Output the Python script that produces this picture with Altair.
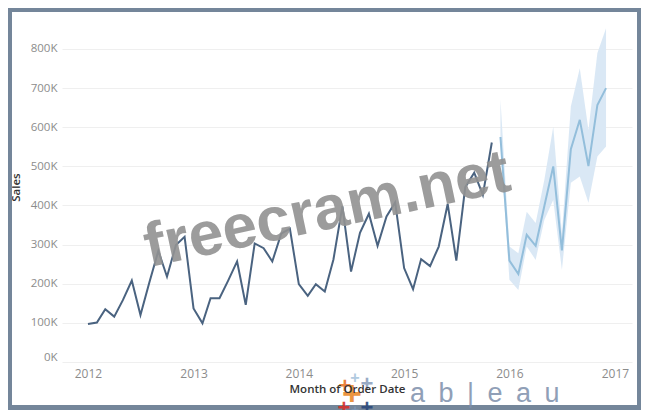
import altair as alt
import pandas as pd

# ---- data (sales in thousands) ----
actual_start = (2012, 1)
actual_sales_k = [
    97, 101, 135, 116, 158, 208, 120, 204, 284, 218, 299, 320,   # 2012
    137, 99, 163, 163, 208, 257, 146, 303, 291, 257, 328, 341,   # 2013
    199, 169, 199, 180, 262, 398, 231, 330, 379, 297, 372, 408,  # 2014
    240, 186, 263, 245, 295, 404, 259, 447, 484, 427, 561,       # 2015 (Jan-Nov)
]
forecast_start = (2015, 12)
forecast_sales_k = [575, 259, 225, 325, 297, 398, 500, 285, 544, 619, 501, 657, 700]
forecast_low_k = [560, 210, 184, 295, 261, 363, 414, 235, 458, 474, 407, 525, 551]
forecast_high_k = [670, 295, 278, 384, 355, 465, 601, 330, 653, 751, 593, 790, 853]

y_ticks_k = [0, 100, 200, 300, 400, 500, 600, 700, 800]
year_ticks = [2012, 2013, 2014, 2015, 2016, 2017]


def months(start, n):
    y, m = start
    out = []
    for _ in range(n):
        out.append(f"{y}-{m:02d}-01")
        m += 1
        if m > 12:
            m = 1
            y += 1
    return out


actual_df = pd.DataFrame({"date": months(actual_start, len(actual_sales_k)),
                          "sales": actual_sales_k})
fc_df = pd.DataFrame({"date": months(forecast_start, len(forecast_sales_k)),
                      "sales": forecast_sales_k,
                      "low": forecast_low_k,
                      "high": forecast_high_k})

LABEL_FONT = "Open Sans"

x_enc = alt.X(
    "date:T",
    scale=alt.Scale(type="utc",
                    domain=[alt.DateTime(year=2011, month=10, date=3, utc=True),
                            alt.DateTime(year=2017, month=3, date=1, utc=True)]),
    axis=alt.Axis(
        values=[alt.DateTime(year=y, month=1, date=1, utc=True) for y in year_ticks],
        labelExpr="utcFormat(datum.value, '%Y')",
        grid=False, ticks=False, domain=False,
        labelColor="#8c8c8c", labelFontSize=12, labelFont=LABEL_FONT, labelPadding=6,
        labelFlush=False,
        title="Month of Order Date", titleColor="#333333", titleFontSize=11.5,
        titleFont=LABEL_FONT, titleFontWeight=600, titleY=27, titleBaseline="middle",
        zindex=1,
    ),
)

y_axis = alt.Axis(
    values=y_ticks_k,
    labelExpr="datum.value + 'K'",
    grid=True, gridColor="#efefef", gridWidth=1,
    ticks=False, domain=False,
    labelColor="#8c8c8c", labelFontSize=11.5, labelFont=LABEL_FONT, labelPadding=5,
    labelFlush=True,
    title="Sales", titleColor="#333333", titleFontSize=11.5, titleFont=LABEL_FONT,
    titleFontWeight=600, titleX=-46, titleY=165, titleAngle=270,
    titleAlign="center", titleBaseline="middle",
)
y_scale = alt.Scale(domain=[0, 869], nice=False, zero=False)

band = alt.Chart(fc_df).mark_area(color="#d8e7f4", opacity=0.95).encode(
    x=x_enc,
    y=alt.Y("low:Q", scale=y_scale, axis=y_axis, title="Sales"),
    y2="high:Q",
)
actual_line = alt.Chart(actual_df).mark_line(color="#4a6380", strokeWidth=2).encode(
    x=x_enc,
    y=alt.Y("sales:Q", scale=y_scale, axis=y_axis, title="Sales"),
)
fc_line = alt.Chart(fc_df).mark_line(color="#93bedb", strokeWidth=2).encode(
    x=x_enc,
    y=alt.Y("sales:Q", scale=y_scale, axis=y_axis, title="Sales"),
)

one = pd.DataFrame({"k": [0]})

watermark = alt.Chart(one).mark_text(
    text="freecram.net", font="Liberation Sans", fontWeight="bold", fontSize=62,
    color="#929292", opacity=0.9, angle=348, align="center", baseline="middle",
).encode(x=alt.value(265), y=alt.value(188))

# tableau logo decoration
logo_text = alt.Chart(one).mark_text(
    text="a\u2002b\u2002|\u2002e\u2002a\u2002u", font="Liberation Sans", fontSize=27,
    color="#7d8fab", opacity=0.85, align="left", baseline="alphabetic",
).encode(x=alt.value(348), y=alt.value(380))


def cross(px, py, size, color):
    return alt.Chart(one).mark_text(
        text="+", font="Liberation Sans", fontWeight="bold", fontSize=size, color=color,
        opacity=0.9, align="center", baseline="middle",
    ).encode(x=alt.value(px), y=alt.value(py))


crosses = [
    cross(290, 373, 34, "#eb8a2c"),
    cross(283, 364, 22, "#e8762b"),
    cross(293, 356, 16, "#a9c5dd"),
    cross(305, 362, 22, "#8ea3bf"),
    cross(282, 386, 22, "#d6312b"),
    cross(293, 389, 14, "#7f96b5"),
    cross(305, 386, 22, "#2c4a7c"),
]

# slate frame around the white panel
FRAME = "#74869a"


def frame(x1, x2, y1, y2):
    return alt.Chart(one).mark_rect(color=FRAME).encode(
        x=alt.value(x1), x2=alt.value(x2), y=alt.value(y1), y2=alt.value(y2))


frames = [
    frame(-54, 579, -14, -10),
    frame(-54, 579, 383, 388),
    frame(-54, -50, -14, 388),
    frame(575, 579, -14, 388),
]

chart = alt.layer(band, actual_line, fc_line, watermark, *frames, *crosses, logo_text).properties(
    width=570, height=340,
    autosize=alt.AutoSizeParams(type="none"),
    padding={"left": 54, "top": 14, "right": 9, "bottom": 48},
    background="#ffffff",
).configure_view(strokeWidth=0)

chart.save("out.html", embed_options={"renderer": "svg", "actions": False})
